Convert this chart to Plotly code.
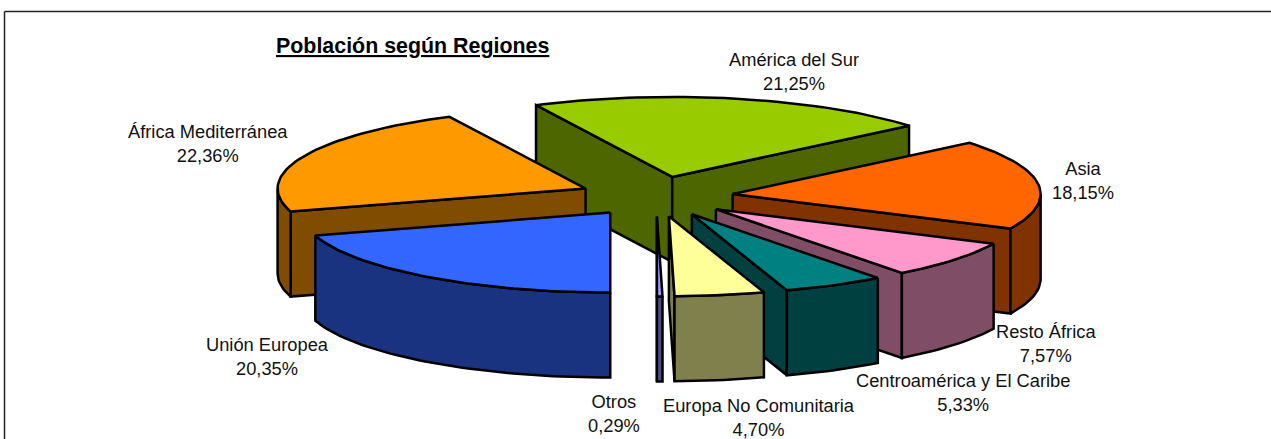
import math
import plotly.graph_objects as go

# ---- data ----
categories = ["África Mediterránea", "América del Sur", "Asia", "Resto África",
              "Centroamérica y El Caribe", "Europa No Comunitaria", "Otros", "Unión Europea"]
values = [22.36, 21.25, 18.15, 7.57, 5.33, 4.70, 0.29, 20.35]
title_text = "Población según Regiones"

# ---- styles ----
top_colors = ["#FF9900", "#99CC00", "#FF6600", "#FF99CC", "#008080", "#FFFF99", "#9999FF", "#3366FF"]
side_colors = ["#804D00", "#4D6600", "#803300", "#804D66", "#004040", "#80804D", "#4D4D80", "#1A3380"]
draw_order = [1, 0, 2, 3, 4, 7, 6, 5]

# ---- layout of the projected pie (pixels) ----
W, H = 1271, 439
CX, CY = 656.2, 196.5
RX, RY = 308.0, 80.0
DEPTH = 85.0
EXPLODE = 0.25
START_DEG = 253.26
LABEL_CENTERS = [(208, 143), (794, 71), (1083, 180), (1046, 343),
                 (963, 392), (759, 417), (614, 413), (267, 356)]


def project(theta_deg, radius, ox, oy, drop=0.0):
    t = math.radians(theta_deg)
    return (ox + radius * RX * math.sin(t), oy - radius * RY * math.cos(t) + drop)


fig = go.Figure()


def poly(points, color, name):
    xs = [p[0] for p in points] + [points[0][0]]
    ys = [p[1] for p in points] + [points[0][1]]
    fig.add_trace(go.Scatter(x=xs, y=ys, mode="lines", fill="toself", fillcolor=color,
                             line=dict(color="black", width=2.5), name=name,
                             hoverinfo="name", showlegend=False))


total = sum(values)
edges = [START_DEG]
for v in values:
    edges.append(edges[-1] + v / total * 360)

for i in draw_order:
    a, b = edges[i], edges[i + 1]
    mid = (a + b) / 2
    ox, oy = project(mid, EXPLODE, CX, CY)
    name = categories[i]
    apex, apex_low = (ox, oy), (ox, oy + DEPTH)
    # radial cut faces
    if math.sin(math.radians(a)) < 0:
        poly([apex, project(a, 1, ox, oy), project(a, 1, ox, oy, DEPTH), apex_low], side_colors[i], name)
    if math.sin(math.radians(b)) > 0:
        poly([apex, project(b, 1, ox, oy), project(b, 1, ox, oy, DEPTH), apex_low], side_colors[i], name)
    # outer wall: the front half of the rim, for this slice and its 360° shifts
    for shift in (0, 360):
        lo, hi = max(a, 90 + shift), min(b, 270 + shift)
        if hi > lo:
            n = max(2, int((hi - lo) / 1.5))
            ang = [lo + (hi - lo) * k / n for k in range(n + 1)]
            wall = [project(t, 1, ox, oy) for t in ang] + [project(t, 1, ox, oy, DEPTH) for t in reversed(ang)]
            poly(wall, side_colors[i], name)
    # top face
    n = max(2, int((b - a) / 1.5))
    top = [apex] + [project(a + (b - a) * k / n, 1, ox, oy) for k in range(n + 1)]
    poly(top, top_colors[i], name)

annotations = [
    dict(x=x, y=y, xref="x", yref="y", showarrow=False, align="center",
         text=f"{c}<br>{v:.2f}%".replace(".", ","),
         font=dict(family="Liberation Sans", size=18.3, color="#111111"))
    for c, v, (x, y) in zip(categories, values, LABEL_CENTERS)
]
annotations.append(dict(x=412, y=46, xref="x", yref="y", showarrow=False,
                        text=f"<b><u>{title_text}</u></b>",
                        font=dict(family="Liberation Sans", size=21.4, color="black")))

fig.update_layout(
    width=W, height=H, margin=dict(l=0, r=0, t=0, b=0),
    paper_bgcolor="white", plot_bgcolor="white",
    xaxis=dict(range=[0, W], visible=False, fixedrange=True),
    yaxis=dict(range=[H, 0], visible=False, fixedrange=True),
    annotations=annotations,
    shapes=[
        dict(type="line", xref="x", yref="y", x0=4.5, x1=W, y0=11.5, y1=11.5, line=dict(color="#222222", width=1.5)),
        dict(type="line", xref="x", yref="y", x0=4.5, x1=4.5, y0=11.5, y1=H, line=dict(color="#222222", width=1.5)),
    ],
)
fig.write_html("out.html", config=dict(displayModeBar=False),
               post_script="document.body.style.margin='0';document.body.style.overflow='hidden';")
